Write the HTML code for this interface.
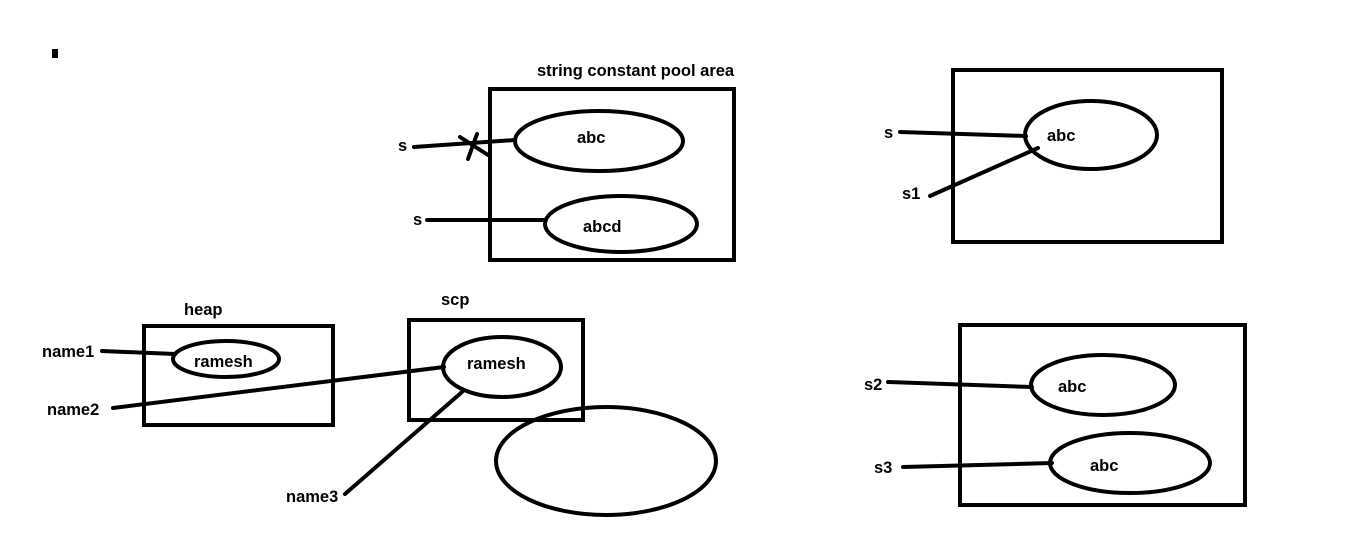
<!DOCTYPE html>
<html><head><style>body{margin:0;background:#fff}svg{display:block}text{font-family:"Liberation Sans",sans-serif;font-weight:bold;font-size:16.5px;fill:#000}</style></head>
<body>
<svg width="1354" height="542" viewBox="0 0 1354 542">
<g fill="none" stroke="#000" stroke-width="4" stroke-linecap="round">
<rect x="52" y="49" width="6" height="9" fill="#000" stroke="none"/>
<rect x="490" y="89" width="244" height="171"/>
<ellipse cx="599" cy="141" rx="84" ry="30"/>
<line x1="414" y1="147" x2="515" y2="140"/>
<line x1="460" y1="137" x2="488" y2="155"/>
<line x1="477" y1="134" x2="468" y2="159"/>
<ellipse cx="621" cy="224" rx="76" ry="28"/>
<line x1="427" y1="220" x2="545" y2="220"/>
<rect x="953" y="70" width="269" height="172"/>
<ellipse cx="1091" cy="135" rx="66" ry="34"/>
<line x1="900" y1="132" x2="1026" y2="136"/>
<line x1="930" y1="196" x2="1038" y2="148"/>
<rect x="960" y="325" width="285" height="180"/>
<ellipse cx="1103" cy="385" rx="72" ry="30"/>
<ellipse cx="1130" cy="463" rx="80" ry="30"/>
<line x1="888" y1="382" x2="1032" y2="387"/>
<line x1="903" y1="467" x2="1052" y2="463"/>
<rect x="144" y="326" width="189" height="99"/>
<ellipse cx="226" cy="359" rx="53" ry="18"/>
<line x1="102" y1="351" x2="175" y2="354"/>
<rect x="409" y="320" width="174" height="100"/>
<ellipse cx="502" cy="367" rx="59" ry="30"/>
<line x1="113" y1="408" x2="444" y2="367"/>
<line x1="345" y1="494" x2="462" y2="392"/>
<ellipse cx="606" cy="461" rx="110" ry="54"/>
</g>
<text x="537" y="76">string constant pool area</text>
<text x="577" y="143">abc</text>
<text x="398" y="151">s</text>
<text x="583" y="232">abcd</text>
<text x="413" y="225">s</text>
<text x="1047" y="141">abc</text>
<text x="884" y="138">s</text>
<text x="902" y="199">s1</text>
<text x="1058" y="392">abc</text>
<text x="1090" y="471">abc</text>
<text x="864" y="390">s2</text>
<text x="874" y="473">s3</text>
<text x="184" y="315">heap</text>
<text x="441" y="305">scp</text>
<text x="194" y="367">ramesh</text>
<text x="467" y="369">ramesh</text>
<text x="42" y="357">name1</text>
<text x="47" y="415">name2</text>
<text x="286" y="502">name3</text>
</svg>
</body></html>
